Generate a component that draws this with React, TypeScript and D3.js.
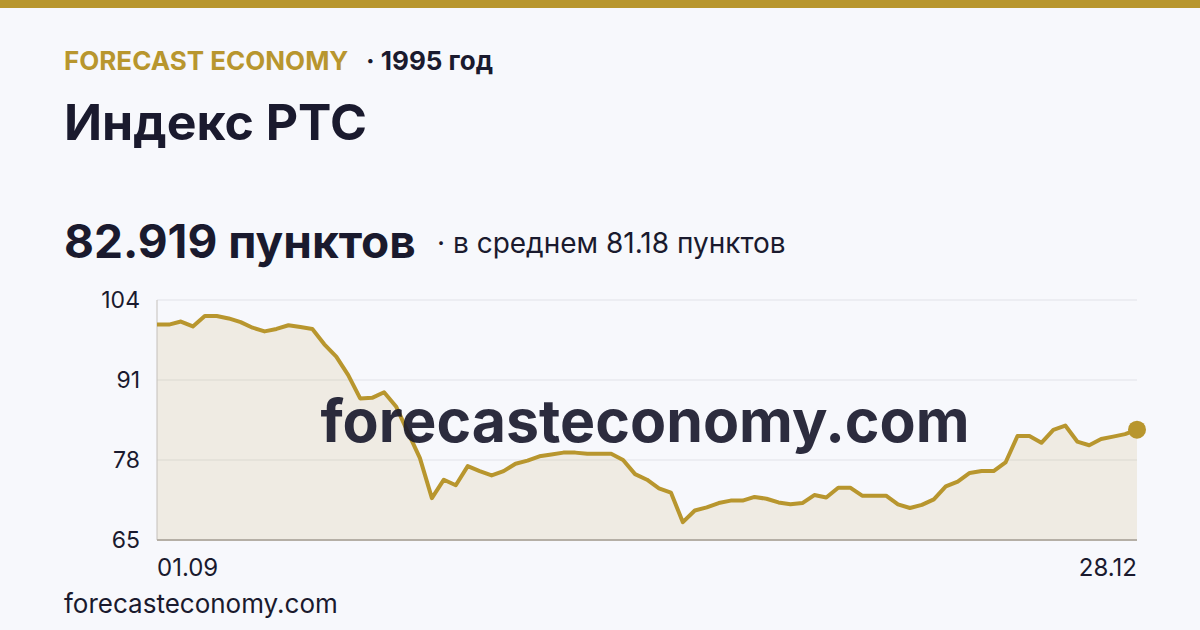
import React, { useEffect, useRef } from 'react';
import * as d3 from 'd3';

// RTS index, trading days 01.09.1995 – 28.12.1995
const values: number[] = [
  100.0, 100.0, 100.5, 99.7, 101.4, 101.4, 101.0, 100.4, 99.5, 98.9,
  99.3, 99.9, 99.6, 99.3, 96.8, 94.8, 91.8, 88.0, 88.1, 89.0,
  86.7, 82.5, 78.3, 71.8, 74.8, 73.9, 77.0, 76.2, 75.5, 76.2,
  77.4, 77.9, 78.6, 78.9, 79.2, 79.2, 79.0, 79.0, 79.0, 78.0,
  75.7, 74.8, 73.4, 72.7, 67.9, 69.8, 70.3, 71.0, 71.4, 71.4,
  72.0, 71.7, 71.1, 70.8, 71.0, 72.3, 71.9, 73.5, 73.5, 72.2,
  72.2, 72.2, 70.8, 70.2, 70.7, 71.6, 73.7, 74.5, 75.9, 76.2,
  76.2, 77.6, 81.9, 81.9, 80.8, 82.9, 83.6, 81.0, 80.4, 81.4,
  81.8, 82.2, 82.919,
];
const yTicks: number[] = [65, 78, 91, 104];
const xLabels: string[] = ['01.09', '28.12'];

const brand = 'FORECAST ECONOMY';
const yearLabel = '· 1995 год';
const title = 'Индекс РТС';
const lastLabel = '82.919 пунктов';
const avgLabel = '· в среднем 81.18 пунктов';
const site = 'forecasteconomy.com';

const W = 1200;
const H = 630;
const GOLD = '#b8962e';
const DARK = '#1a1a2e';
const FONT = 'Inter, "Noto Sans", sans-serif';

export default function App() {
  const svgRef = useRef<SVGSVGElement | null>(null);

  useEffect(() => {
    if (!svgRef.current) return;
    document.body.style.margin = '0';
    const svg = d3.select(svgRef.current);
    svg.selectAll('*').remove();

    svg.append('rect').attr('width', W).attr('height', H).attr('fill', '#f7f8fc');
    svg.append('rect').attr('width', W).attr('height', 8).attr('fill', GOLD);

    // header
    svg.append('text').attr('x', 64).attr('y', 70)
      .attr('font-family', FONT).attr('font-size', 26).attr('font-weight', 700)
      .attr('fill', GOLD).text(brand);
    svg.append('text').attr('x', 366).attr('y', 70)
      .attr('font-family', FONT).attr('font-size', 26).attr('font-weight', 700)
      .attr('fill', DARK).text(yearLabel);
    svg.append('text').attr('x', 64).attr('y', 140)
      .attr('font-family', FONT).attr('font-size', 50).attr('font-weight', 700)
      .attr('fill', DARK).text(title);
    svg.append('text').attr('x', 64).attr('y', 258)
      .attr('font-family', FONT).attr('font-size', 46).attr('font-weight', 700)
      .attr('fill', DARK).text(lastLabel);
    svg.append('text').attr('x', 437).attr('y', 253)
      .attr('font-family', FONT).attr('font-size', 28).attr('font-weight', 400)
      .attr('fill', DARK).text(avgLabel);

    // chart
    const left = 157, right = 1137, top = 300, bottom = 540;
    const x = d3.scaleLinear().domain([0, values.length - 1]).range([left, right]);
    const y = d3.scaleLinear().domain([65, 104]).range([bottom, top]);

    svg.append('g').selectAll('line').data(yTicks.filter(t => t !== 65)).join('line')
      .attr('x1', left).attr('x2', right)
      .attr('y1', d => y(d)).attr('y2', d => y(d))
      .attr('stroke', '#e1e2e8').attr('stroke-width', 1);

    const area = d3.area<number>()
      .x((_, i) => x(i))
      .y0(bottom)
      .y1(d => y(d));
    svg.append('path').datum(values)
      .attr('fill', GOLD).attr('fill-opacity', 0.12)
      .attr('d', area);

    svg.append('line').attr('x1', left).attr('x2', left).attr('y1', top).attr('y2', bottom)
      .attr('stroke', '#c4c0bb').attr('stroke-width', 1);
    svg.append('line').attr('x1', left).attr('x2', right).attr('y1', bottom).attr('y2', bottom)
      .attr('stroke', '#b5afa6').attr('stroke-width', 2);

    svg.append('g').selectAll('text').data(yTicks).join('text')
      .attr('x', 140).attr('y', d => y(d) + 8)
      .attr('text-anchor', 'end')
      .attr('font-family', FONT).attr('font-size', 23)
      .attr('fill', DARK).text(d => d);

    svg.append('text').attr('x', left).attr('y', 576)
      .attr('font-family', FONT).attr('font-size', 24).attr('fill', DARK).text(xLabels[0]);
    svg.append('text').attr('x', right).attr('y', 576).attr('text-anchor', 'end')
      .attr('font-family', FONT).attr('font-size', 24).attr('fill', DARK).text(xLabels[1]);

    const line = d3.line<number>()
      .x((_, i) => x(i))
      .y(d => y(d));
    svg.append('path').datum(values)
      .attr('fill', 'none').attr('stroke', GOLD).attr('stroke-width', 4)
      .attr('stroke-linejoin', 'round')
      .attr('d', line);

    svg.append('circle')
      .attr('cx', x(values.length - 1)).attr('cy', y(values[values.length - 1]))
      .attr('r', 9).attr('fill', GOLD);

    // watermark
    svg.append('text').attr('x', 645).attr('y', 442).attr('text-anchor', 'middle')
      .attr('font-family', FONT).attr('font-size', 59).attr('font-weight', 700)
      .attr('fill', DARK).attr('fill-opacity', 0.92).text(site);

    svg.append('text').attr('x', 64).attr('y', 613)
      .attr('font-family', FONT).attr('font-size', 26)
      .attr('fill', DARK).text(site);
  }, []);

  return <svg ref={svgRef} width={W} height={H} style={{ display: 'block' }} />;
}
